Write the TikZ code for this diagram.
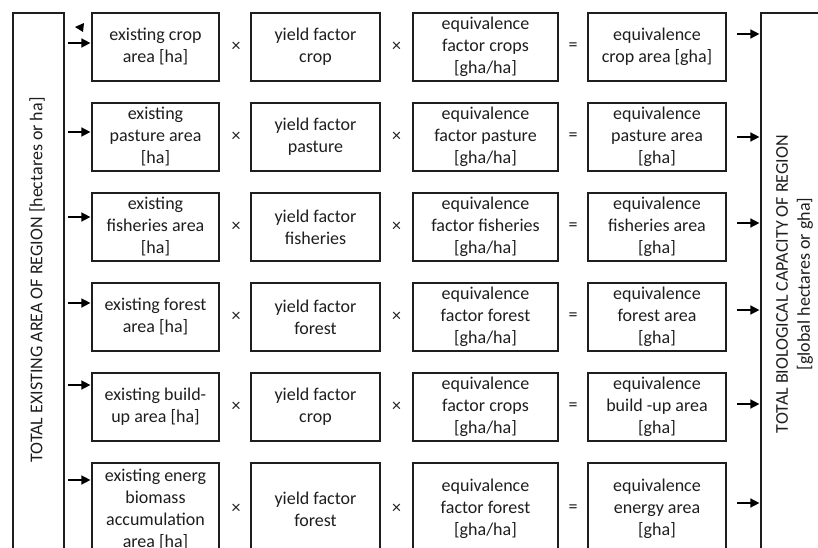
\documentclass[tikz,border=0pt]{standalone}
\usepackage{fontspec}
\setmainfont{Carlito}
\usepackage{tikz}
\usetikzlibrary{positioning}
\usetikzlibrary{arrows.meta}

\definecolor{ink}{RGB}{30,30,30}

\tikzset{
  factor/.style={draw=ink, line width=1.2pt, align=center, text=ink, inner sep=0pt,
    font=\fontsize{18}{22}\selectfont, minimum height=68pt},
  op/.style={text=ink, inner sep=0pt, font=\fontsize{18}{22}\selectfont},
  frame/.style={draw=ink, line width=1.2pt, minimum height=542pt},
  flow/.style={-{Triangle[length=9pt,width=9pt]}, line width=1.5pt, shorten >=1pt}
}

\begin{document}
\begin{tikzpicture}[x=1pt,y=-1pt]
  \useasboundingbox (0,0) rectangle (818,548);
  \clip (0,0) rectangle (818,548);

  % totals on both sides
  \node at (38.5,284) [frame,minimum width=51pt] (area) {};
  \node at (37,280) [op,rotate=90] (areatext) {TOTAL EXISTING AREA OF REGION [hectares or ha]};
  \node at (794.5,284) [frame,minimum width=67pt] (capacity) {};
  \node at (794.5,284) [op,rotate=90,align=center] (capacitytext) {
    TOTAL BIOLOGICAL CAPACITY OF REGION\\{}[global hectares or gha]
  };

  % crop
  \node at (155.5,47) [factor,minimum width=127pt] (croparea) {existing crop\\area [ha]};
  \node at (315.5,47) [factor,minimum width=129pt] (cropyield) {yield factor\\crop};
  \node at (485.5,47) [factor,minimum width=145pt] (cropequiv) {equivalence\\factor crops\\{}[gha/ha]};
  \node at (657,47) [factor,minimum width=138pt] (cropgha) {equivalence\\crop area [gha]};
  \node at (236,47) [op] (cropx) {×};
  \node at (396.5,47) [op] (cropxx) {×};
  \node at (573,47) [op] (cropeq) {=};

  % pasture
  \node at (155.5,137) [factor,minimum width=127pt] (pasturearea) {existing\\pasture area\\{}[ha]};
  \node at (315.5,137) [factor,minimum width=129pt] (pastureyield) {yield factor\\pasture};
  \node at (485.5,137) [factor,minimum width=145pt] (pastureequiv) {equivalence\\factor pasture\\{}[gha/ha]};
  \node at (657,137) [factor,minimum width=138pt] (pasturegha) {equivalence\\pasture area\\{}[gha]};
  \node at (236,137) [op] (pasturex) {×};
  \node at (396.5,137) [op] (pasturexx) {×};
  \node at (573,137) [op] (pastureeq) {=};

  % fisheries
  \node at (155.5,227) [factor,minimum width=127pt] (fisharea) {existing\\fisheries area\\{}[ha]};
  \node at (315.5,227) [factor,minimum width=129pt] (fishyield) {yield factor\\fisheries};
  \node at (485.5,227) [factor,minimum width=145pt] (fishequiv) {equivalence\\factor fisheries\\{}[gha/ha]};
  \node at (657,227) [factor,minimum width=138pt] (fishgha) {equivalence\\fisheries area\\{}[gha]};
  \node at (236,227) [op] (fishx) {×};
  \node at (396.5,227) [op] (fishxx) {×};
  \node at (573,227) [op] (fisheq) {=};

  % forest
  \node at (155.5,317) [factor,minimum width=127pt] (forestarea) {existing forest\\area [ha]};
  \node at (315.5,317) [factor,minimum width=129pt] (forestyield) {yield factor\\forest};
  \node at (485.5,317) [factor,minimum width=145pt] (forestequiv) {equivalence\\factor forest\\{}[gha/ha]};
  \node at (657,317) [factor,minimum width=138pt] (forestgha) {equivalence\\forest area\\{}[gha]};
  \node at (236,317) [op] (forestx) {×};
  \node at (396.5,317) [op] (forestxx) {×};
  \node at (573,317) [op] (foresteq) {=};

  % build-up
  \node at (155.5,407) [factor,minimum width=127pt] (buildarea) {existing build-\\up area [ha]};
  \node at (315.5,407) [factor,minimum width=129pt] (buildyield) {yield factor\\crop};
  \node at (485.5,407) [factor,minimum width=145pt] (buildequiv) {equivalence\\factor crops\\{}[gha/ha]};
  \node at (657,407) [factor,minimum width=138pt] (buildgha) {equivalence\\build -up area\\{}[gha]};
  \node at (236,407) [op] (buildx) {×};
  \node at (396.5,407) [op] (buildxx) {×};
  \node at (573,407) [op] (buildeq) {=};

  % energy
  \node at (155.5,509) [factor,minimum width=127pt,minimum height=92pt] (energyarea) {
    existing energ\\biomass\\accumulation\\area [ha]
  };
  \node at (315.5,509) [factor,minimum width=129pt,minimum height=92pt] (energyyield) {yield factor\\forest};
  \node at (485.5,509) [factor,minimum width=145pt,minimum height=92pt] (energyequiv) {equivalence\\factor forest\\{}[gha/ha]};
  \node at (657,509) [factor,minimum width=138pt,minimum height=92pt] (energygha) {equivalence\\energy area\\{}[gha]};
  \node at (236,509) [op] (energyx) {×};
  \node at (396.5,509) [op] (energyxx) {×};
  \node at (573,509) [op] (energyeq) {=};

  % arrows in
  \coordinate (incrop) at (68,43);
  \coordinate (inpasture) at (68,132);
  \coordinate (infish) at (68,217);
  \coordinate (inforest) at (68,303);
  \coordinate (inbuild) at (68,385);
  \coordinate (inenergy) at (68,480);
  \draw[flow] (incrop) -- (croparea.west |- incrop);
  \draw[flow] (inpasture) -- (pasturearea.west |- inpasture);
  \draw[flow] (infish) -- (fisharea.west |- infish);
  \draw[flow] (inforest) -- (forestarea.west |- inforest);
  \draw[flow] (inbuild) -- (buildarea.west |- inbuild);
  \draw[flow] (inenergy) -- (energyarea.west |- inenergy);

  % arrows out
  \coordinate (outcrop) at (737,34);
  \coordinate (outpasture) at (737,137);
  \coordinate (outfish) at (737,223);
  \coordinate (outforest) at (737,310);
  \coordinate (outbuild) at (737,404);
  \coordinate (outenergy) at (737,503);
  \draw[flow] (outcrop) -- (capacity.west |- outcrop);
  \draw[flow] (outpasture) -- (capacity.west |- outpasture);
  \draw[flow] (outfish) -- (capacity.west |- outfish);
  \draw[flow] (outforest) -- (capacity.west |- outforest);
  \draw[flow] (outbuild) -- (capacity.west |- outbuild);
  \draw[flow] (outenergy) -- (capacity.west |- outenergy);

  % loose tip above the first arrow
  \coordinate (tip) at (75,27);
  \fill (tip) -- (84,23) -- (83,32) -- cycle;
\end{tikzpicture}
\end{document}
